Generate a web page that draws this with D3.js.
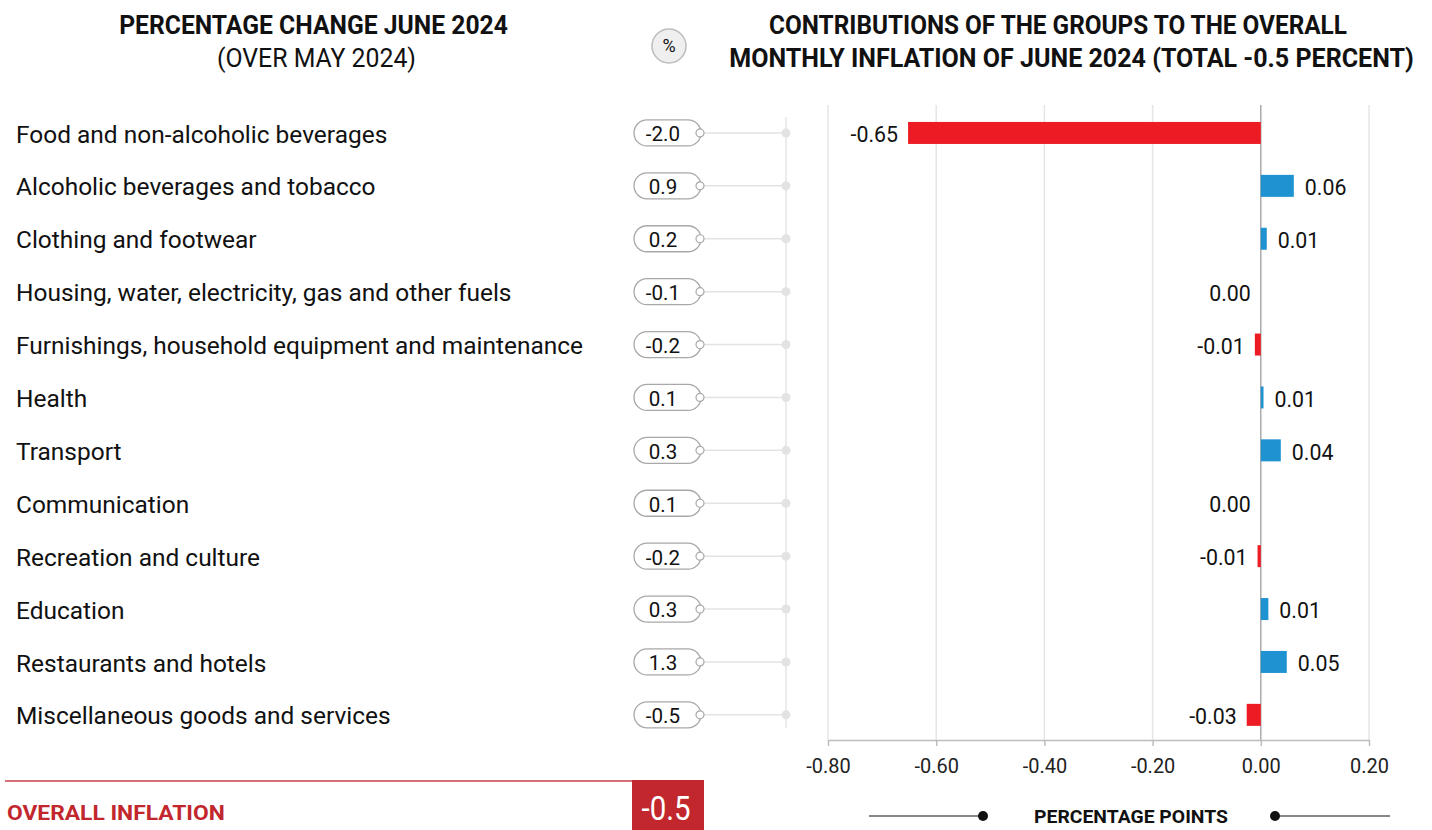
<!DOCTYPE html>
<html>
<head>
<meta charset="utf-8">
<script src="https://cdn.jsdelivr.net/npm/d3@7"></script>
<style>
  html, body { margin: 0; padding: 0; background: #fff; }
  svg { display: block; font-family: Roboto, "Noto Sans", sans-serif; }
</style>
</head>
<body>
<svg id="chart" width="1432" height="830"></svg>
<script>
// CPI groups, monthly % change and contribution to overall inflation (percentage points)
const categories = [
  "Food and non-alcoholic beverages",
  "Alcoholic beverages and tobacco",
  "Clothing and footwear",
  "Housing, water, electricity, gas and other fuels",
  "Furnishings, household equipment and maintenance",
  "Health",
  "Transport",
  "Communication",
  "Recreation and culture",
  "Education",
  "Restaurants and hotels",
  "Miscellaneous goods and services"
];
const pctChange = [-2.0, 0.9, 0.2, -0.1, -0.2, 0.1, 0.3, 0.1, -0.2, 0.3, 1.3, -0.5];
const contribution = [-0.652, 0.061, 0.011, 0.000, -0.011, 0.005, 0.037, 0.000, -0.006, 0.014, 0.048, -0.026];
const xTicks = [-0.8, -0.6, -0.4, -0.2, 0.0, 0.2];
const overallInflation = -0.5;

const locale = d3.formatLocale({decimal: ".", thousands: ",", grouping: [3], currency: ["", ""], minus: "-"});
const fmt1 = locale.format(".1f");
const fmt2 = locale.format(".2f");

const RED = "#ed1c24", BLUE = "#1f92d1", DARKRED = "#c1272d";

const svg = d3.select("#chart");

// place a text at (x, y) and squeeze it horizontally to width w
function placeFit(sel, px, py, w) {
  sel.attr("x", 0).attr("y", 0);
  const nat = sel.node().getComputedTextLength();
  sel.attr("transform", `translate(${px},${py}) scale(${w / nat},1)`);
}
function condense(sel, factor) {
  sel.each(function () {
    const w = this.getComputedTextLength();
    d3.select(this).attr("textLength", w * factor).attr("lengthAdjust", "spacingAndGlyphs");
  });
}

// shared row positions
const y = d3.scalePoint().domain(categories).range([106.5, 741.3]).padding(0.5);
const x = d3.scaleLinear().domain([-0.8, 0.2]).range([828, 1369]);
const barH = 22;

// ---------- titles ----------
const titles = svg.append("g").attr("fill", "#111");
titles.append("text").attr("text-anchor", "middle")
  .attr("font-size", 26).attr("font-weight", 700).text("PERCENTAGE CHANGE JUNE 2024")
  .call(placeFit, 313.5, 34, 389);
titles.append("text").attr("text-anchor", "middle")
  .attr("font-size", 26).attr("font-weight", 400).text("(OVER MAY 2024)")
  .call(placeFit, 316.5, 67, 199);
titles.append("text").attr("text-anchor", "middle")
  .attr("font-size", 26).attr("font-weight", 700).text("CONTRIBUTIONS OF THE GROUPS TO THE OVERALL")
  .call(placeFit, 1058, 34, 578);
titles.append("text").attr("text-anchor", "middle")
  .attr("font-size", 26).attr("font-weight", 700).text("MONTHLY INFLATION OF JUNE 2024 (TOTAL -0.5 PERCENT)")
  .call(placeFit, 1071.5, 67, 685);

// percent badge
svg.append("circle").attr("cx", 669).attr("cy", 46).attr("r", 17)
  .attr("fill", "#efefef").attr("stroke", "#bdbdbd").attr("stroke-width", 1.5);
svg.append("text").attr("x", 669).attr("y", 46).attr("dy", "0.35em").attr("text-anchor", "middle")
  .attr("font-size", 18).attr("fill", "#111").text("%");

// ---------- left panel: group names and % change pills ----------
const left = svg.append("g");
left.append("line").attr("x1", 786).attr("x2", 786).attr("y1", 117).attr("y2", 728)
  .attr("stroke", "#e6e6e6").attr("stroke-width", 1.5);

const rows = left.selectAll("g.row").data(categories).join("g").attr("class", "row")
  .attr("transform", d => `translate(0,${y(d)})`);

const names = rows.append("text").attr("x", 16).attr("y", 1.5).attr("dy", "0.35em")
  .attr("font-size", 23).attr("fill", "#111").text(d => d);
// scale all names by the same factor so the longest one keeps its width
const longest = names.filter(d => d === categories[4]).node().getComputedTextLength();
names.call(condense, 567 / longest);

rows.append("line").attr("x1", 704).attr("x2", 786)
  .attr("stroke", "#e3e3e3").attr("stroke-width", 1.5);
rows.append("circle").attr("cx", 786).attr("r", 4.5).attr("fill", "#e3e3e3");
rows.append("rect").attr("x", 634).attr("y", -13).attr("width", 67).attr("height", 26)
  .attr("rx", 13).attr("fill", "#fff").attr("stroke", "#a8a8a8").attr("stroke-width", 1.3);
rows.append("circle").attr("cx", 700).attr("r", 4).attr("fill", "#fff")
  .attr("stroke", "#a8a8a8").attr("stroke-width", 1.2);
rows.append("text").attr("x", 663).attr("y", 1).attr("dy", "0.35em").attr("text-anchor", "middle")
  .attr("font-size", 21).attr("fill", "#111")
  .text((d, i) => fmt1(pctChange[i]))
  .call(condense, 0.98);

// ---------- right panel: contribution bars ----------
const right = svg.append("g");

right.selectAll("line.grid").data(xTicks).join("line").attr("class", "grid")
  .attr("x1", d => x(d)).attr("x2", d => x(d)).attr("y1", 105).attr("y2", 740)
  .attr("stroke", d => d === 0 ? "#9e9e9e" : "#e6e6e6").attr("stroke-width", d => d === 0 ? 1.3 : 1.5);

const axis = right.append("g").attr("transform", "translate(0,740)")
  .call(d3.axisBottom(x).tickValues(xTicks).tickFormat(fmt2).tickSize(6).tickSizeOuter(0));
axis.select(".domain").attr("stroke", "#bdbdbd").attr("stroke-width", 1.5);
axis.selectAll(".tick line").attr("stroke", "#bdbdbd").attr("stroke-width", 1.5);
axis.selectAll(".tick text").attr("font-size", 21).attr("fill", "#222")
  .attr("font-family", "Roboto, sans-serif").attr("y", 18).attr("dy", "0.71em")
  .call(condense, 0.95);

const bars = right.selectAll("g.bar").data(categories).join("g").attr("class", "bar")
  .attr("transform", d => `translate(0,${y(d)})`);

bars.append("rect")
  .attr("x", (d, i) => x(Math.min(0, contribution[i])))
  .attr("width", (d, i) => Math.abs(x(contribution[i]) - x(0)))
  .attr("y", -barH / 2).attr("height", barH)
  .attr("fill", (d, i) => contribution[i] < 0 ? RED : BLUE);

bars.append("text")
  .attr("x", (d, i) => contribution[i] > 0 ? x(contribution[i]) + 11 : x(contribution[i]) - 10)
  .attr("text-anchor", (d, i) => contribution[i] > 0 ? "start" : "end")
  .attr("y", 1.5).attr("dy", "0.35em").attr("font-size", 22).attr("fill", "#111")
  .text((d, i) => fmt2(contribution[i]))
  .call(condense, 0.97);

// x-axis title
const unit = svg.append("g");
unit.append("line").attr("x1", 869).attr("x2", 983).attr("y1", 816).attr("y2", 816).attr("stroke", "#111").attr("stroke-width", 1.2);
unit.append("circle").attr("cx", 983).attr("cy", 816).attr("r", 5).attr("fill", "#111");
unit.append("line").attr("x1", 1275).attr("x2", 1390).attr("y1", 816).attr("y2", 816).attr("stroke", "#111").attr("stroke-width", 1.2);
unit.append("circle").attr("cx", 1275).attr("cy", 816).attr("r", 5).attr("fill", "#111");
unit.append("text").attr("text-anchor", "middle")
  .attr("font-size", 18).attr("font-weight", 700).attr("fill", "#111")
  .text("PERCENTAGE POINTS").call(placeFit, 1131, 823, 194);

// ---------- overall inflation footer ----------
const foot = svg.append("g");
foot.append("line").attr("x1", 5).attr("x2", 632).attr("y1", 781).attr("y2", 781)
  .attr("stroke", "#c8404a").attr("stroke-width", 1.5);
foot.append("rect").attr("x", 632).attr("y", 780).attr("width", 72).attr("height", 50).attr("fill", DARKRED);
foot.append("text").attr("text-anchor", "middle").attr("dy", "0.35em")
  .attr("font-size", 33).attr("fill", "#fff").text(fmt1(overallInflation))
  .call(placeFit, 666, 808, 49);
foot.append("text")
  .attr("font-size", 21).attr("font-weight", 700).attr("fill", DARKRED)
  .text("OVERALL INFLATION").call(placeFit, 7, 820, 218);
</script>
</body>
</html>
